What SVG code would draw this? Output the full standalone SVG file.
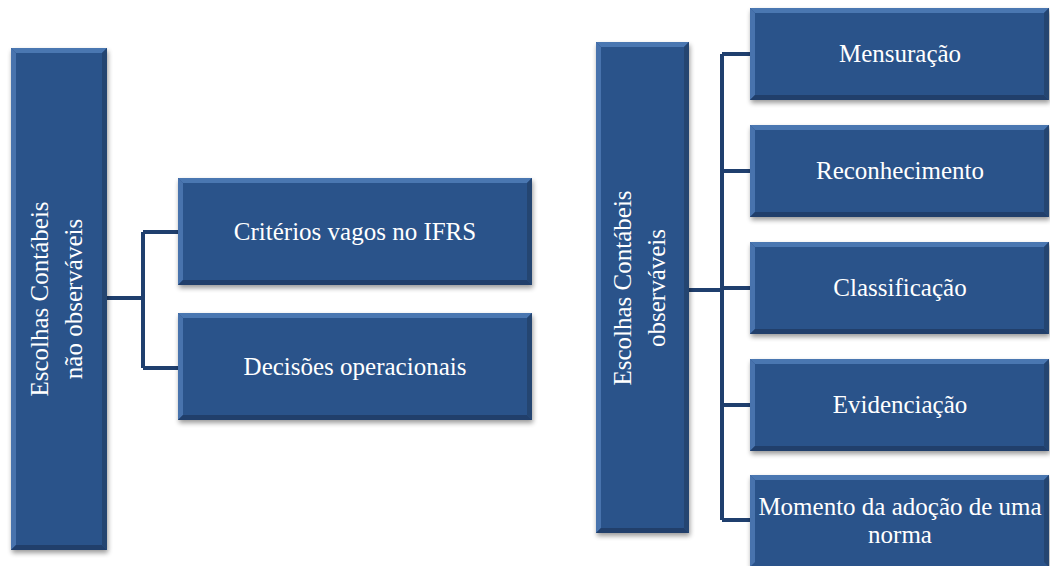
<svg xmlns="http://www.w3.org/2000/svg" width="1050" height="566" viewBox="0 0 1050 566">
<defs>
<filter id="sh" x="-10%" y="-10%" width="130%" height="130%">
<feGaussianBlur in="SourceAlpha" stdDeviation="2.5"/>
<feOffset dx="1" dy="3" result="b"/>
<feComponentTransfer><feFuncA type="linear" slope="0.4"/></feComponentTransfer>
<feMerge><feMergeNode/><feMergeNode in="SourceGraphic"/></feMerge>
</filter>
</defs>
<style>
.face{fill:#29528a;filter:url(#sh)}
.bt{fill:#4a77b1}
.bl{fill:#4873ad}
.bb{fill:#213f6b}
.br{fill:#244571}
.t{font-family:"Liberation Serif","Times New Roman",serif;font-size:25px;fill:#ffffff;text-anchor:middle}
.c{fill:none;stroke:#1f3f6e;stroke-width:4;stroke-linejoin:miter}
</style>
<rect width="1050" height="566" fill="#ffffff"/>
<g id="connectors">
<path class="c" d="M107,298 H143 M143,232 V368 M143,232 H178 M143,368 H178"/>
<path class="c" d="M689,290 H722 M722,54 V520 M722,54 H750 M722,171 H750 M722,288 H750 M722,405 H750 M722,520 H750"/>
</g>
<g id="n-left-parent">
<rect class="face" x="11" y="48" width="96" height="502"/>
<polygon class="bt" points="11,48 107,48 102,53 16,53"/>
<polygon class="bl" points="11,48 16,53 16,545 11,550"/>
<polygon class="bb" points="11,550 16,545 102,545 107,550"/>
<polygon class="br" points="107,48 107,550 102,545 102,53"/>
<text class="t" transform="translate(59,299) rotate(-90)"><tspan x="0" y="-11">Escolhas Contábeis</tspan><tspan x="0" y="23">não observáveis</tspan></text>
</g>
<g id="n-criterios">
<rect class="face" x="178" y="178" width="354" height="107"/>
<polygon class="bt" points="178,178 532,178 527,183 183,183"/>
<polygon class="bl" points="178,178 183,183 183,280 178,285"/>
<polygon class="bb" points="178,285 183,280 527,280 532,285"/>
<polygon class="br" points="532,178 532,285 527,280 527,183"/>
<text class="t" x="355" y="240">Critérios vagos no IFRS</text>
</g>
<g id="n-decisoes">
<rect class="face" x="178" y="313" width="354" height="107"/>
<polygon class="bt" points="178,313 532,313 527,318 183,318"/>
<polygon class="bl" points="178,313 183,318 183,415 178,420"/>
<polygon class="bb" points="178,420 183,415 527,415 532,420"/>
<polygon class="br" points="532,313 532,420 527,415 527,318"/>
<text class="t" x="355" y="375">Decisões operacionais</text>
</g>
<g id="n-right-parent">
<rect class="face" x="596" y="42" width="93" height="491"/>
<polygon class="bt" points="596,42 689,42 684,47 601,47"/>
<polygon class="bl" points="596,42 601,47 601,528 596,533"/>
<polygon class="bb" points="596,533 601,528 684,528 689,533"/>
<polygon class="br" points="689,42 689,533 684,528 684,47"/>
<text class="t" transform="translate(642,288) rotate(-90)"><tspan x="0" y="-11">Escolhas Contábeis</tspan><tspan x="0" y="23">observáveis</tspan></text>
</g>
<g id="n-mensuracao">
<rect class="face" x="750" y="8" width="299" height="92"/>
<polygon class="bt" points="750,8 1049,8 1044,13 755,13"/>
<polygon class="bl" points="750,8 755,13 755,95 750,100"/>
<polygon class="bb" points="750,100 755,95 1044,95 1049,100"/>
<polygon class="br" points="1049,8 1049,100 1044,95 1044,13"/>
<text class="t" x="900" y="62">Mensuração</text>
</g>
<g id="n-reconhecimento">
<rect class="face" x="750" y="125" width="299" height="92"/>
<polygon class="bt" points="750,125 1049,125 1044,130 755,130"/>
<polygon class="bl" points="750,125 755,130 755,212 750,217"/>
<polygon class="bb" points="750,217 755,212 1044,212 1049,217"/>
<polygon class="br" points="1049,125 1049,217 1044,212 1044,130"/>
<text class="t" x="900" y="179">Reconhecimento</text>
</g>
<g id="n-classificacao">
<rect class="face" x="750" y="242" width="299" height="92"/>
<polygon class="bt" points="750,242 1049,242 1044,247 755,247"/>
<polygon class="bl" points="750,242 755,247 755,329 750,334"/>
<polygon class="bb" points="750,334 755,329 1044,329 1049,334"/>
<polygon class="br" points="1049,242 1049,334 1044,329 1044,247"/>
<text class="t" x="900" y="296">Classificação</text>
</g>
<g id="n-evidenciacao">
<rect class="face" x="750" y="359" width="299" height="92"/>
<polygon class="bt" points="750,359 1049,359 1044,364 755,364"/>
<polygon class="bl" points="750,359 755,364 755,446 750,451"/>
<polygon class="bb" points="750,451 755,446 1044,446 1049,451"/>
<polygon class="br" points="1049,359 1049,451 1044,446 1044,364"/>
<text class="t" x="900" y="413">Evidenciação</text>
</g>
<g id="n-momento">
<rect class="face" x="750" y="475" width="299" height="92"/>
<polygon class="bt" points="750,475 1049,475 1044,480 755,480"/>
<polygon class="bl" points="750,475 755,480 755,562 750,567"/>
<polygon class="br" points="1049,475 1049,567 1044,562 1044,480"/>
<text class="t" x="900" y="515">Momento da adoção de uma</text>
<text class="t" x="900" y="543">norma</text>
</g>
</svg>
